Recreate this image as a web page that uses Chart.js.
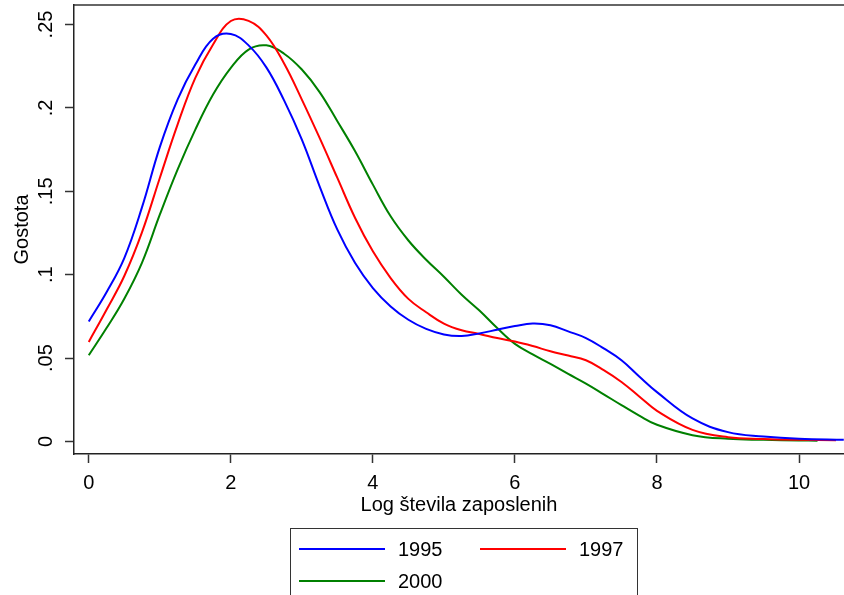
<!DOCTYPE html>
<html>
<head>
<meta charset="utf-8">
<script src="https://cdn.jsdelivr.net/npm/chart.js@4"></script>
<style>
  html, body { margin: 0; padding: 0; background: #fff; }
  #wrap { position: relative; width: 844px; height: 595px; overflow: hidden; }
  #legend { position: absolute; left: 290px; top: 528px; width: 346px; height: 90px; border: 1px solid #333;
            font-family: "Liberation Sans", Arial, sans-serif; font-size: 20px; color: #000; }
  .item { position: absolute; display: flex; align-items: center; height: 24px; line-height: 24px; }
  .swatch { width: 86px; height: 2px; margin-right: 13px; }
</style>
</head>
<body>
<div id="wrap">
  <canvas id="chart" width="844" height="595"></canvas>
  <div id="legend"></div>
</div>
<script>
// kernel density, log of number of employees
const logSize = [0, 0.25, 0.5, 0.75, 1, 1.25, 1.5, 1.75, 2, 2.25, 2.5, 2.75, 3, 3.25, 3.5, 3.75, 4, 4.25, 4.5, 4.75,
                 5, 5.25, 5.5, 5.75, 6, 6.25, 6.5, 6.75, 7, 7.25, 7.5, 7.75, 8, 8.5, 9, 9.5, 10];
const dens1995 = [0.072, 0.0895, 0.110, 0.1405, 0.1765, 0.205, 0.226, 0.2415, 0.2443, 0.2375, 0.2243, 0.2045, 0.181, 0.153, 0.127, 0.107, 0.092, 0.081, 0.073, 0.0675,
                  0.0642, 0.0633, 0.0648, 0.067, 0.0692, 0.0707, 0.0697, 0.066, 0.062, 0.0558, 0.0487, 0.039, 0.0296, 0.0138, 0.0056, 0.003, 0.0016];
const dens1997 = [0.0597, 0.079, 0.0992, 0.1255, 0.158, 0.19, 0.218, 0.238, 0.2521, 0.2522, 0.2435, 0.2266, 0.205, 0.182, 0.158, 0.134, 0.114, 0.098, 0.0855, 0.0775,
                  0.0707, 0.0667, 0.0645, 0.062, 0.0599, 0.0572, 0.0541, 0.0515, 0.0487, 0.0428, 0.0357, 0.027, 0.0184, 0.007, 0.0026, 0.0015, 0.001];
const dens2000 = [0.0517, 0.068, 0.0856, 0.1073, 0.136, 0.163, 0.187, 0.208, 0.224, 0.235, 0.2375, 0.2325, 0.223, 0.2095, 0.192, 0.174, 0.154, 0.135, 0.1205, 0.109,
                  0.0988, 0.088, 0.0785, 0.068, 0.0585, 0.0522, 0.0465, 0.0405, 0.0347, 0.0283, 0.0218, 0.0155, 0.010, 0.0038, 0.0016, 0.001, 0.0006];
const years = ['1995', '1997', '2000'];
const lastX = [10.63, 10.52, 10.26];
const lastY = [0.001, 0.0008, 0.0005];
const xTicks = [0, 2, 4, 6, 8, 10];
const yTicks = [0, 0.05, 0.1, 0.15, 0.2, 0.25];
const yTickLabels = ['0', '.05', '.1', '.15', '.2', '.25'];

const colors = ['#0000ff', '#ff0000', '#008000'];
const fontFamily = '"Liberation Sans", Arial, sans-serif';

function points(values, i) {
    const pts = logSize.map((x, k) => ({ x: x, y: values[k] }));
    pts.push({ x: lastX[i], y: lastY[i] });
    return pts;
}

// fixed axis sizes, no extra room for overhanging labels
function fixSize(w, h) {
    return s => {
        if (w !== null) s.width = w;
        if (h !== null) s.height = h;
        s.paddingTop = 0;
        s.paddingBottom = 0;
        s.paddingLeft = 0;
        s.paddingRight = 0;
    };
}

const chart = new Chart(document.getElementById('chart'), {
    type: 'line',
    data: {
        datasets: [dens1995, dens1997, dens2000].map((d, i) => ({
            label: years[i],
            data: points(d, i),
            borderColor: colors[i],
            borderWidth: 2,
            pointRadius: 0,
            tension: 0.4,
            fill: false
        }))
    },
    options: {
        responsive: false,
        animation: false,
        layout: { autoPadding: false, padding: { left: 0, right: 0, top: 0, bottom: 78 } },
        plugins: { legend: { display: false }, tooltip: { enabled: false } },
        scales: {
            x: {
                type: 'linear',
                min: -0.208,
                max: 10.633,
                afterBuildTicks: s => { s.ticks = xTicks.map(v => ({ value: v })); },
                afterFit: fixSize(null, 63),
                ticks: { color: '#000', padding: 8, maxRotation: 0, font: { family: fontFamily, size: 20 } },
                grid: { drawOnChartArea: false, tickLength: 9, tickColor: '#333', tickWidth: 1.5 },
                border: { color: '#222', width: 1.5 },
                title: { display: true, text: 'Log števila zaposlenih', color: '#000', padding: 0,
                         font: { family: fontFamily, size: 20 } }
            },
            xTop: {
                type: 'linear',
                position: 'top',
                min: -0.208,
                max: 10.633,
                afterFit: fixSize(null, 5),
                ticks: { display: false },
                grid: { display: false, drawTicks: false },
                border: { display: true, color: '#666', width: 2 }
            },
            y: {
                min: -0.0075,
                max: 0.2617,
                afterBuildTicks: s => { s.ticks = yTicks.map(v => ({ value: v })); },
                afterFit: fixSize(74, null),
                ticks: {
                    color: '#000', padding: 5, minRotation: 90, maxRotation: 90, crossAlign: 'center',
                    font: { family: fontFamily, size: 20 },
                    callback: v => yTickLabels[yTicks.indexOf(v)]
                },
                grid: { drawOnChartArea: false, tickLength: 9, tickColor: '#333', tickWidth: 1.5 },
                border: { color: '#222', width: 1.5 },
                title: { display: true, text: 'Gostota', color: '#000', padding: { top: 10, bottom: 0 },
                         font: { family: fontFamily, size: 20 } }
            }
        }
    }
});

// legend box below the plot, two columns
const legendPos = [[8, 8], [189, 8], [8, 40]];
const legend = document.getElementById('legend');
chart.data.datasets.forEach((ds, i) => {
    const item = document.createElement('div');
    item.className = 'item';
    item.style.left = legendPos[i][0] + 'px';
    item.style.top = legendPos[i][1] + 'px';
    item.innerHTML = `<span class="swatch" style="background:${ds.borderColor}"></span><span>${ds.label}</span>`;
    legend.appendChild(item);
});
</script>
</body>
</html>
